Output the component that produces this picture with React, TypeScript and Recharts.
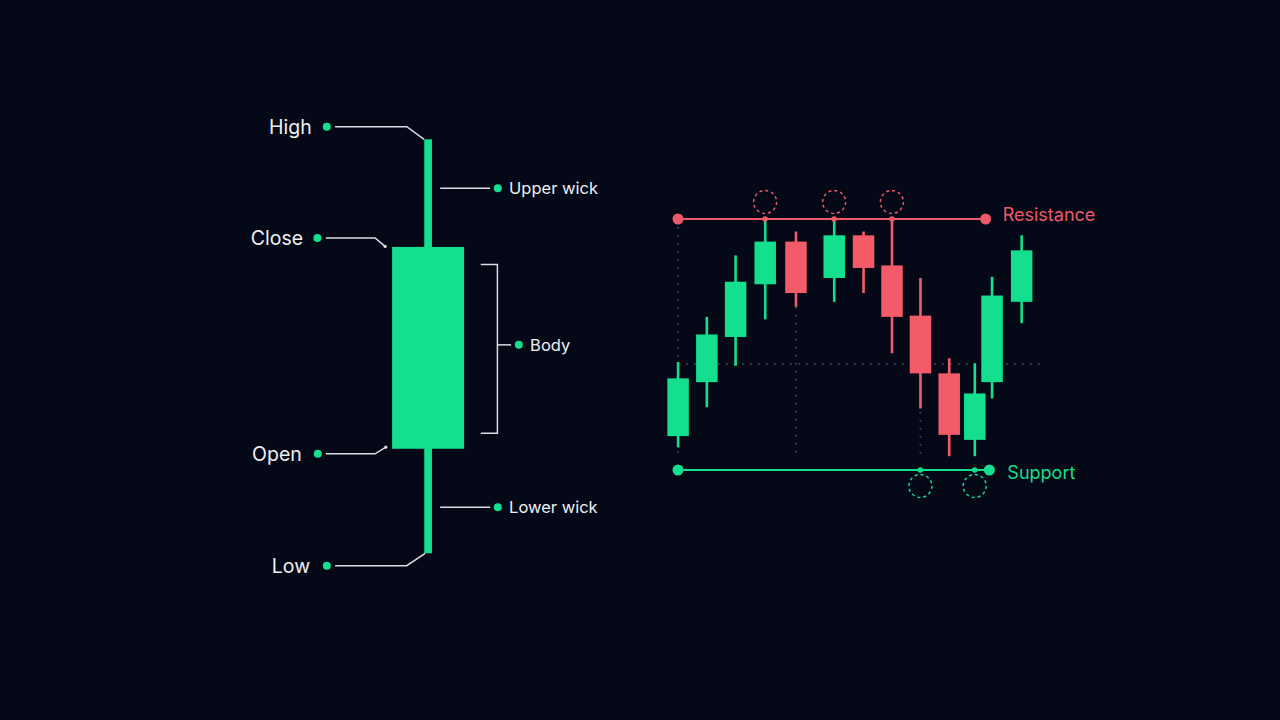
import React from 'react';
import { ComposedChart, Bar, XAxis, YAxis, ReferenceLine, ReferenceDot } from 'recharts';

// ---------- data: single candle anatomy ----------
const anatomyCategories = ['Anatomy'];
const anatomyOpen = [90.1];
const anatomyHigh = [120];
const anatomyLow = [80];
const anatomyClose = [109.6];
const anatomyLabels = { high: 'High', close: 'Close', open: 'Open', low: 'Low', upperWick: 'Upper wick', body: 'Body', lowerWick: 'Lower wick' };

// ---------- data: support / resistance chart ----------
const marketTime = [0, 1.0, 2.0, 3.03, 4.1, 5.43, 6.45, 7.44, 8.43, 9.43, 10.32, 10.92, 11.95];
const marketOpen = [102.7, 107.0, 110.6, 114.8, 118.2, 115.3, 118.7, 116.3, 112.3, 107.7, 102.4, 107.0, 113.4];
const marketHigh = [108.6, 112.2, 117.1, 120.0, 119.0, 120.0, 119.0, 120.0, 115.3, 108.9, 108.5, 115.4, 118.7];
const marketLow = [101.8, 105.0, 108.3, 112.0, 113.0, 113.4, 114.1, 109.3, 104.9, 101.1, 101.1, 105.7, 111.7];
const marketClose = [107.3, 110.8, 115.0, 118.2, 114.1, 118.7, 116.1, 112.2, 107.7, 102.8, 106.1, 113.9, 117.5];

const resistanceLevel = 120;
const supportLevel = 100;
const levelStart = 0;
const resistanceEnd = 10.7;
const supportEnd = 10.83;
const resistanceTouchIndex = [3, 5, 7];
const supportTouchIndex = [8, 10];
const levelLabels = { resistance: 'Resistance', support: 'Support' };

const guideLevel = 108.45;
const guideStart = 0.28;
const guideEnd = 12.77;
const guideBottom = 101.1;
const dropTime = [0, 4.1, 8.43];
const dropTop = [120, 113.0, 108.45];

// ---------- derived tables ----------
const anatomyData = anatomyCategories.map((name, i) => ({
  name,
  open: anatomyOpen[i],
  high: anatomyHigh[i],
  low: anatomyLow[i],
  close: anatomyClose[i],
}));

const marketData = marketTime.map((t, i) => ({
  t,
  open: marketOpen[i],
  high: marketHigh[i],
  low: marketLow[i],
  close: marketClose[i],
}));

// ---------- styles ----------
const BG = '#050816';
const GREEN = '#14df8e';
const RED = '#f35b69';
const RED_LINE = '#ec5a69';
const WHITE = '#eef0f3';
const LEADER = '#d9dce1';
const GUIDE = '#444a5c';
const FONT = 'Inter, "Noto Sans", sans-serif';

function AnatomyCandle(props: any) {
  const { x, y, width, height, payload } = props;
  const cx = x + width / 2;
  const ppu = height / (payload.high - payload.low);
  const py = (v: number) => y + (payload.high - v) * ppu;
  const top = py(payload.high);
  const bottom = py(payload.low);
  const bodyTop = py(Math.max(payload.open, payload.close));
  const bodyBot = py(Math.min(payload.open, payload.close));
  const bodyW = 72;
  const wickW = 7.7;
  const color = payload.close >= payload.open ? GREEN : RED;

  const hiY = top - 12.6;
  const clY = bodyTop - 9;
  const opY = bodyBot + 5;
  const loY = bottom + 12.4;
  const uwY = bodyTop - 58.7;
  const lwY = bodyBot + 58.4;
  const brT = bodyTop + 17.6;
  const brB = bodyBot - 15.6;
  const bdY = (brT + brB) / 2 - 4;

  const big = { fill: WHITE, fontSize: 19.5, fontFamily: FONT, dominantBaseline: 'central' as const };
  const small = { fill: WHITE, fontSize: 16.5, fontFamily: FONT, dominantBaseline: 'central' as const };
  const ln = { stroke: LEADER, strokeWidth: 1.5, fill: 'none' };

  return (
    <g>
      <rect x={cx - wickW / 2} y={top} width={wickW} height={bottom - top} fill={color} />
      <rect x={cx - bodyW / 2} y={bodyTop} width={bodyW} height={bodyBot - bodyTop} fill={color} />

      <text x={cx - 116.3} y={hiY} textAnchor="end" {...big}>{anatomyLabels.high}</text>
      <circle cx={cx - 101.3} cy={hiY} r={4} fill={GREEN} />
      <polyline points={`${cx - 93},${hiY} ${cx - 21.3},${hiY} ${cx - 4},${top}`} {...ln} />

      <text x={cx - 125} y={clY} textAnchor="end" {...big}>{anatomyLabels.close}</text>
      <circle cx={cx - 110.7} cy={clY} r={4} fill={GREEN} />
      <polyline points={`${cx - 102.3},${clY} ${cx - 53},${clY} ${cx - 43},${bodyTop - 0.5}`} {...ln} />
      <circle cx={cx - 43} cy={bodyTop - 0.5} r={1.6} fill={LEADER} />

      <text x={cx - 126.3} y={opY} textAnchor="end" {...big}>{anatomyLabels.open}</text>
      <circle cx={cx - 110.3} cy={opY} r={4} fill={GREEN} />
      <polyline points={`${cx - 102.3},${opY} ${cx - 53},${opY} ${cx - 42.3},${bodyBot - 1.6}`} {...ln} />
      <circle cx={cx - 42.3} cy={bodyBot - 1.6} r={1.6} fill={LEADER} />

      <text x={cx - 118} y={loY} textAnchor="end" {...big}>{anatomyLabels.low}</text>
      <circle cx={cx - 101.3} cy={loY} r={4} fill={GREEN} />
      <polyline points={`${cx - 93},${loY} ${cx - 21.3},${loY} ${cx - 3},${bottom}`} {...ln} />

      <line x1={cx + 12} y1={uwY} x2={cx + 62} y2={uwY} {...ln} />
      <circle cx={cx + 69.7} cy={uwY} r={4} fill={GREEN} />
      <text x={cx + 81} y={uwY} textAnchor="start" {...small}>{anatomyLabels.upperWick}</text>

      <polyline points={`${cx + 52.7},${brT} ${cx + 69.3},${brT} ${cx + 69.3},${brB} ${cx + 52.7},${brB}`} {...ln} />
      <line x1={cx + 69.3} y1={bdY} x2={cx + 83} y2={bdY} {...ln} />
      <circle cx={cx + 90.7} cy={bdY} r={4} fill={GREEN} />
      <text x={cx + 102} y={bdY} textAnchor="start" {...small}>{anatomyLabels.body}</text>

      <line x1={cx + 12} y1={lwY} x2={cx + 62} y2={lwY} {...ln} />
      <circle cx={cx + 69.7} cy={lwY} r={4} fill={GREEN} />
      <text x={cx + 81} y={lwY} textAnchor="start" {...small}>{anatomyLabels.lowerWick}</text>
    </g>
  );
}

function MarketCandle(props: any) {
  const { x, y, width, height, payload } = props;
  const cx = x + width / 2;
  const ppu = height / (payload.high - payload.low);
  const py = (v: number) => y + (payload.high - v) * ppu;
  const top = py(payload.high);
  const bottom = py(payload.low);
  const bodyTop = py(Math.max(payload.open, payload.close));
  const bodyBot = py(Math.min(payload.open, payload.close));
  const bodyW = 21.5;
  const wickW = 2.6;
  const color = payload.close >= payload.open ? GREEN : RED;
  return (
    <g>
      <rect x={cx - wickW / 2} y={top} width={wickW} height={bottom - top} fill={color} />
      <rect x={cx - bodyW / 2} y={bodyTop} width={bodyW} height={bodyBot - bodyTop} fill={color} />
    </g>
  );
}

const EmptyShape = () => <g />;

const TouchMarker = (color: string, offset: number) => (p: any) => (
  <g>
    <circle cx={p.cx} cy={p.cy} r={2.8} fill={color} />
    <circle cx={p.cx} cy={p.cy + offset} r={11.5} fill="none" stroke={color} strokeWidth={1.5} strokeDasharray="3 3" />
  </g>
);

const LevelEnd = (color: string, label: string, dx: number, dy: number) => (p: any) => (
  <g>
    <circle cx={p.cx} cy={p.cy} r={5.5} fill={color} />
    <text x={p.cx + dx} y={p.cy + dy} fill={color} fontSize={18} fontFamily={FONT} dominantBaseline="central">{label}</text>
  </g>
);

const LevelStart = (color: string) => (p: any) => <circle cx={p.cx} cy={p.cy} r={5.5} fill={color} />;

const marketFrame = {
  width: 1280,
  height: 720,
  data: marketData,
  margin: { top: 168.8, bottom: 199.8, left: 649.25, right: 199.5 },
};

export default function App() {
  return (
    <div style={{ position: 'absolute', left: 0, top: 0, width: 1280, height: 720, background: BG, overflow: 'hidden' }}>
      {/* left: anatomy of one candle */}
      <div style={{ position: 'absolute', left: 0, top: 0 }}>
        <ComposedChart width={856} height={720} data={anatomyData} margin={{ top: 139.3, bottom: 166.7, left: 0, right: 0 }}>
          <XAxis dataKey="name" hide />
          <YAxis type="number" domain={[80, 120]} hide />
          <Bar dataKey={(d: any) => [d.low, d.high]} shape={AnatomyCandle} isAnimationActive={false} />
        </ComposedChart>
      </div>

      {/* right, background layer: dotted guides */}
      <div style={{ position: 'absolute', left: 0, top: 0 }}>
        <ComposedChart {...marketFrame}>
          <XAxis dataKey="t" type="number" domain={[-1, 14]} hide />
          <YAxis type="number" domain={[96, 124]} hide />
          <Bar dataKey={(d: any) => [d.low, d.high]} shape={EmptyShape} isAnimationActive={false} />
          <ReferenceLine segment={[{ x: guideStart, y: guideLevel }, { x: guideEnd, y: guideLevel }]} stroke={GUIDE} strokeWidth={1.7} strokeDasharray="1.6 6.4" ifOverflow="visible" />
          {dropTime.map((t, i) => (
            <ReferenceLine key={`drop-${i}`} segment={[{ x: t, y: dropTop[i] }, { x: t, y: guideBottom }]} stroke={GUIDE} strokeWidth={1.7} strokeDasharray="1.6 6.4" ifOverflow="visible" />
          ))}
        </ComposedChart>
      </div>

      {/* right, foreground layer: candles and levels */}
      <div style={{ position: 'absolute', left: 0, top: 0 }}>
        <ComposedChart {...marketFrame}>
          <XAxis dataKey="t" type="number" domain={[-1, 14]} hide />
          <YAxis type="number" domain={[96, 124]} hide />

          <Bar dataKey={(d: any) => [d.low, d.high]} shape={MarketCandle} isAnimationActive={false} />

          <ReferenceLine segment={[{ x: levelStart, y: resistanceLevel }, { x: resistanceEnd, y: resistanceLevel }]} stroke={RED_LINE} strokeWidth={2} ifOverflow="visible" />
          <ReferenceDot x={levelStart} y={resistanceLevel} r={5.5} shape={LevelStart(RED_LINE)} ifOverflow="visible" />
          <ReferenceDot x={resistanceEnd} y={resistanceLevel} r={5.5} shape={LevelEnd(RED_LINE, levelLabels.resistance, 17, -5)} ifOverflow="visible" />
          {resistanceTouchIndex.map((idx) => (
            <ReferenceDot key={`rt-${idx}`} x={marketTime[idx]} y={resistanceLevel} r={3} shape={TouchMarker(RED_LINE, -17)} ifOverflow="visible" />
          ))}

          <ReferenceLine segment={[{ x: levelStart, y: supportLevel }, { x: supportEnd, y: supportLevel }]} stroke={GREEN} strokeWidth={2} ifOverflow="visible" />
          <ReferenceDot x={levelStart} y={supportLevel} r={5.5} shape={LevelStart(GREEN)} ifOverflow="visible" />
          <ReferenceDot x={supportEnd} y={supportLevel} r={5.5} shape={LevelEnd(GREEN, levelLabels.support, 18, 2)} ifOverflow="visible" />
          {supportTouchIndex.map((idx) => (
            <ReferenceDot key={`st-${idx}`} x={marketTime[idx]} y={supportLevel} r={3} shape={TouchMarker(GREEN, 16)} ifOverflow="visible" />
          ))}
        </ComposedChart>
      </div>
    </div>
  );
}
